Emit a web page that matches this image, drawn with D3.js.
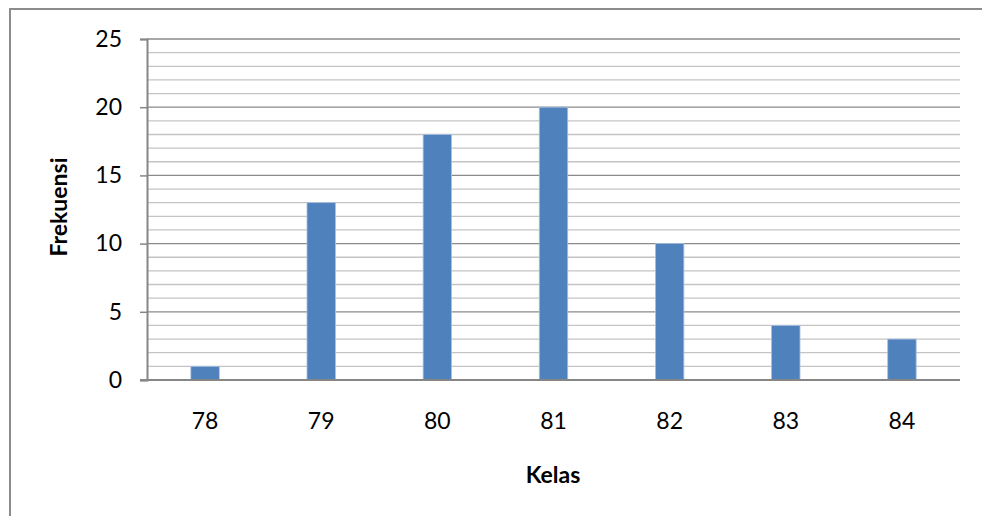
<!DOCTYPE html>
<html>
<head>
<meta charset="utf-8">
<script src="https://cdn.jsdelivr.net/npm/d3@7"></script>
<style>
  html, body { margin: 0; padding: 0; background: #fff; }
  svg { display: block; }
  text { font-family: Lato, "Open Sans", sans-serif; fill: #000; }
</style>
</head>
<body>
<svg id="chart" width="982" height="516"></svg>
<script>
// Frequency distribution by class
const classes = ["78", "79", "80", "81", "82", "83", "84"];
const frequencies = [1, 13, 18, 20, 10, 4, 3];
const yTicks = [0, 5, 10, 15, 20, 25];
const yMinorTicks = d3.range(0, 26, 1);

const svg = d3.select("#chart");
const W = 982, H = 516;
const margin = { left: 147, right: 22, top: 39, bottom: 136 };
const labelFont = "Lato, 'Open Sans', sans-serif";

// outer frame
svg.append("rect")
  .attr("x", 10).attr("y", 9)
  .attr("width", W).attr("height", H)
  .attr("fill", "none").attr("stroke", "#8c8c8c").attr("stroke-width", 2);

const x = d3.scaleBand()
  .domain(classes)
  .range([margin.left, W - margin.right])
  .paddingInner(0.755).paddingOuter(0.3775);

const y = d3.scaleLinear()
  .domain([0, 25])
  .range([H - margin.bottom, margin.top]);

// minor gridlines
svg.append("g")
  .selectAll("line")
  .data(yMinorTicks.filter(d => d % 5 !== 0))
  .join("line")
  .attr("x1", margin.left).attr("x2", W - margin.right)
  .attr("y1", d => y(d)).attr("y2", d => y(d))
  .attr("stroke", "#c4c4c4").attr("stroke-width", 1.3);

// major gridlines
svg.append("g")
  .selectAll("line")
  .data(yTicks.filter(d => d > 0))
  .join("line")
  .attr("x1", margin.left).attr("x2", W - margin.right)
  .attr("y1", d => y(d)).attr("y2", d => y(d))
  .attr("stroke", "#8a8a8a").attr("stroke-width", 1.3);

// bars
svg.append("g")
  .selectAll("rect")
  .data(frequencies)
  .join("rect")
  .attr("x", (d, i) => x(classes[i]))
  .attr("y", d => y(d))
  .attr("width", x.bandwidth())
  .attr("height", d => y(0) - y(d))
  .attr("fill", "#4f81bd")
  .attr("stroke", "#a9c0e0").attr("stroke-width", 0.8);

// y axis
const yAxis = svg.append("g")
  .attr("transform", `translate(${margin.left},0)`)
  .call(d3.axisLeft(y).tickValues(yTicks).tickSize(7).tickPadding(18));
yAxis.selectAll("path").attr("stroke", "#868686").attr("stroke-width", 2);
yAxis.selectAll("line").attr("stroke", "#868686").attr("stroke-width", 1.5);
yAxis.selectAll("text")
  .style("font-family", labelFont)
  .style("font-size", "23px").attr("fill", "#000");

// x axis (baseline)
const xAxis = svg.append("g")
  .attr("transform", `translate(0,${y(0)})`)
  .call(d3.axisBottom(x).tickSize(0).tickPadding(33));
xAxis.select("path")
  .attr("d", `M${margin.left - 7},0H${W - margin.right}`)
  .attr("stroke", "#868686").attr("stroke-width", 2);
xAxis.selectAll("text")
  .style("font-family", labelFont)
  .style("font-size", "23px").attr("fill", "#000");

// axis titles
svg.append("text")
  .attr("transform", `translate(67,207) rotate(-90)`)
  .attr("text-anchor", "middle")
  .style("font-size", "23px").style("font-weight", "bold")
  .text("Frekuensi");

svg.append("text")
  .attr("x", 553).attr("y", 483)
  .attr("text-anchor", "middle")
  .style("font-size", "23px").style("font-weight", "bold")
  .text("Kelas");
</script>
</body>
</html>
